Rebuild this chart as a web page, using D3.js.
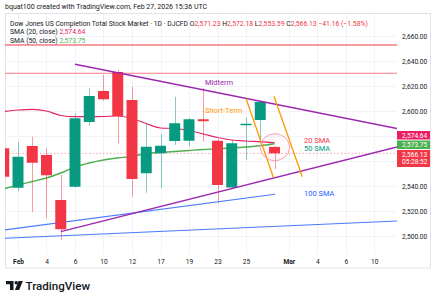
<!DOCTYPE html>
<html>
<head>
<meta charset="utf-8">
<script src="https://cdn.jsdelivr.net/npm/d3@7"></script>
<style>
  html, body { margin: 0; padding: 0; background: #ffffff; }
  svg { display: block; font-family: Roboto, "Liberation Sans", sans-serif; }
</style>
</head>
<body>
<svg id="chart" width="437" height="300"></svg>
<script>
// ---------------- DATA ----------------
const barIndex = [-1,0,1,2,3,4,5,6,7,8,9,10,11,12,13,14,15,16,17,18];
const dates = ["Jan 30","Feb 2","Feb 3","Feb 4","Feb 5","Feb 6","Feb 9","Feb 10","Feb 11","Feb 12","Feb 13","Feb 17","Feb 18","Feb 19","Feb 20","Feb 23","Feb 24","Feb 25","Feb 26","Feb 27"];
const openVals  = [2570.2,2538.6,2572.0,2564.8,2528.8,2539.4,2591.2,2616.0,2631.2,2608.8,2550.2,2566.2,2576.0,2576.2,2593.4,2576.2,2538.8,2589.0,2592.8,2571.23];
const highVals  = [2573.0,2575.0,2579.4,2570.2,2548.8,2598.2,2618.2,2628.8,2632.8,2619.4,2590.6,2581.6,2611.4,2594.5,2618.2,2577.6,2576.8,2595.0,2607.5,2572.18];
const lowVals   = [2545.0,2536.0,2519.4,2514.2,2496.8,2538.5,2588.2,2608.2,2574.2,2531.4,2534.6,2538.2,2572.8,2572.0,2575.4,2526.2,2538.0,2560.8,2574.2,2553.59];
const closeVals = [2547.4,2563.4,2558.6,2548.6,2505.4,2594.2,2612.0,2609.4,2596.0,2545.6,2571.4,2572.2,2590.2,2593.4,2591.8,2540.8,2574.2,2589.8,2607.29,2566.13];
const sma20 = [2599.6,2600.8,2601.36,2600.0,2596.4,2595.44,2595.44,2595.6,2596.0,2594.0,2590.0,2586.4,2586.0,2584.4,2581.6,2578.8,2576.8,2576.0,2575.44,2574.64];
const sma50 = [2537.8,2540.8,2543.6,2546.4,2550.4,2555.2,2558.4,2560.8,2562.4,2563.6,2566.0,2566.8,2567.6,2568.4,2569.2,2569.76,2570.4,2571.2,2572.24,2573.75];

// drawn levels / trend lines: [barIndex, price]
const levelPrices   = [2652.8, 2630.2];
const midtermLine   = [[4, 2637.4], [26.6, 2586.0]];
const supportLine   = [[3, 2503.5], [26.6, 2571.2]];
const shortTerm1    = [[16, 2610.0], [17.92, 2547.0]];
const shortTerm2    = [[17.96, 2611.8], [19.95, 2547.4]];
const sma100Line    = [[-0.95, 2504.8], [18.04, 2533.4]];
const lowerBlueLine = [[-0.95, 2498.2], [26.6, 2512.0]];
const ellipseArea   = {center: [18.03, 2571.0], halfBars: 1.03, halfPrice: 10.8};

// annotations: [barIndex, price, text]
const annotations = [
  [13.12, 2623.0, "Midterm"],
  [13.12, 2600.2, "Short-Term"],
  [20.07, 2576.2, "20 SMA"],
  [20.07, 2570.2, "50 SMA"],
  [20.07, 2534.2, "100 SMA"]
];

// axes
const priceTicks = [2500, 2520, 2540, 2600, 2620, 2640, 2660];
const priceGrid  = [2500, 2520, 2540, 2560, 2580, 2600, 2620, 2640, 2660];
const timeTickIdx    = [0, 2, 4, 6, 8, 10, 12, 14, 16, 19, 21, 23, 25];
const timeTickLabels = ["Feb","4","6","10","12","17","19","23","25","Mar","4","6","10"];

// legend values
const legendOHLC = {O: "2,571.23", H: "2,572.18", L: "2,553.59", C: "2,566.13", chg: "\u221241.16 (\u22121.58%)"};
const legendSMA = [["SMA (20, close)", "2,574.64"], ["SMA (50, close)", "2,573.75"]];
const lastLabels = [["2,574.64"], ["2,573.75"], ["2,566.13", "05:28:52"]];

// ---------------- STYLE ----------------
const C = {
  up: "#089981", down: "#f23645", sma20: "#e91e63", sma50: "#4caf50",
  purple: "#9c27b0", orange: "#ff9800", blue: "#2962ff", grid: "#f0f3fa",
  text: "#131722", axisText: "#131722"
};

const svg = d3.select("#chart");
const plot = {left: 5, right: 397, top: 14, bottom: 254};

const x = d3.scaleLinear().domain([-0.912, 26.596]).range([plot.left, plot.right]);
const y = d3.scaleLinear().domain([2500, 2660]).range([236, 36]);

svg.append("defs").append("clipPath").attr("id", "clip")
  .append("rect").attr("x", plot.left).attr("y", plot.top)
  .attr("width", plot.right - plot.left).attr("height", plot.bottom - plot.top);

// frame
svg.append("rect").attr("x", 5.5).attr("y", 13.5).attr("width", 425).attr("height", 254.5)
  .attr("fill", "none").attr("stroke", "#e0e3eb").attr("stroke-width", 1);

// grid
const g = svg.append("g").attr("clip-path", "url(#clip)");
g.selectAll("line.hg").data(priceGrid).join("line")
  .attr("x1", plot.left).attr("x2", plot.right)
  .attr("y1", d => Math.round(y(d)) + 0.5).attr("y2", d => Math.round(y(d)) + 0.5)
  .attr("stroke", C.grid);
g.selectAll("line.vg").data(timeTickIdx).join("line")
  .attr("x1", d => Math.round(x(d)) + 0.5).attr("x2", d => Math.round(x(d)) + 0.5)
  .attr("y1", plot.top).attr("y2", plot.bottom)
  .attr("stroke", C.grid);

// horizontal levels
g.selectAll("line.lvl").data(levelPrices).join("line")
  .attr("x1", plot.left).attr("x2", plot.right)
  .attr("y1", d => y(d)).attr("y2", d => y(d))
  .attr("stroke", (d, i) => i === 0 ? "#f23645" : "#f77c8a")
  .attr("stroke-width", 1.2);

// lower blue trend lines
const segs = [
  {pts: lowerBlueLine, color: C.blue, w: 1.1},
  {pts: sma100Line, color: C.blue, w: 1.1}
];
segs.forEach(s => g.append("line")
  .attr("x1", x(s.pts[0][0])).attr("y1", y(s.pts[0][1]))
  .attr("x2", x(s.pts[1][0])).attr("y2", y(s.pts[1][1]))
  .attr("stroke", s.color).attr("stroke-width", s.w).attr("opacity", 0.85));

// close price dotted line
g.append("line").attr("x1", plot.left).attr("x2", plot.right)
  .attr("y1", y(closeVals[closeVals.length - 1])).attr("y2", y(closeVals[closeVals.length - 1]))
  .attr("stroke", "#f23645").attr("stroke-opacity", 0.45).attr("stroke-dasharray", "1.5,2");

// SMA lines
const lineGen = d3.line().x(d => x(d[0])).y(d => y(d[1])).curve(d3.curveMonotoneX);
g.append("path").datum(barIndex.map((b, i) => [b, sma20[i]]))
  .attr("d", lineGen).attr("fill", "none").attr("stroke", C.sma20).attr("stroke-width", 1.2);
g.append("path").datum(barIndex.map((b, i) => [b, sma50[i]]))
  .attr("d", lineGen).attr("fill", "none").attr("stroke", C.sma50).attr("stroke-width", 1.4);

// candles
const bw = (x(1) - x(0)) * 0.77;
const candles = barIndex.map((b, i) => ({b, o: openVals[i], h: highVals[i], l: lowVals[i], c: closeVals[i]}));
const cg = g.append("g");
cg.selectAll("line.wick").data(candles).join("line")
  .attr("x1", d => Math.round(x(d.b)) + 0.5).attr("x2", d => Math.round(x(d.b)) + 0.5)
  .attr("y1", d => y(d.h)).attr("y2", d => y(d.l))
  .attr("stroke", d => d.c >= d.o ? C.up : C.down).attr("stroke-opacity", 0.5).attr("stroke-width", 1);
cg.selectAll("rect.body").data(candles).join("rect")
  .attr("x", d => x(d.b) - bw / 2).attr("width", bw)
  .attr("y", d => y(Math.max(d.o, d.c)))
  .attr("height", d => Math.max(1.5, Math.abs(y(d.o) - y(d.c))))
  .attr("fill", d => d.c >= d.o ? C.up : C.down);

// purple / orange trend lines
[{pts: midtermLine, color: C.purple, w: 1.4},
 {pts: supportLine, color: C.purple, w: 1.4},
 {pts: shortTerm1, color: C.orange, w: 1.3},
 {pts: shortTerm2, color: C.orange, w: 1.3}].forEach(s => g.append("line")
  .attr("x1", x(s.pts[0][0])).attr("y1", y(s.pts[0][1]))
  .attr("x2", x(s.pts[1][0])).attr("y2", y(s.pts[1][1]))
  .attr("stroke", s.color).attr("stroke-width", s.w));

// ellipse
g.append("ellipse")
  .attr("cx", x(ellipseArea.center[0])).attr("cy", y(ellipseArea.center[1]))
  .attr("rx", x(ellipseArea.halfBars) - x(0))
  .attr("ry", y(2500) - y(2500 + ellipseArea.halfPrice))
  .attr("fill", "#f23645").attr("fill-opacity", 0.03)
  .attr("stroke", "#f7a1a9").attr("stroke-width", 1);

// annotations
const annColors = [C.purple, C.orange, "#f23645", C.up, C.blue];
g.selectAll("text.ann").data(annotations).join("text")
  .attr("x", d => x(d[0])).attr("y", d => y(d[1]))
  .attr("dy", "0.35em").attr("font-size", 7.5)
  .attr("fill", (d, i) => annColors[i]).text(d => d[2]);

// price axis
const yAxis = d3.axisRight(y).tickValues(priceTicks).tickFormat(d3.format(",.2f")).tickSize(0).tickPadding(0);
const ya = svg.append("g").attr("transform", `translate(402,0)`).call(yAxis);
ya.select(".domain").remove();
ya.selectAll("text").attr("font-size", 6.6).attr("fill", C.axisText).attr("font-family", "Roboto, sans-serif");

// time axis
const xAxis = d3.axisBottom(x).tickValues(timeTickIdx).tickFormat((d, i) => timeTickLabels[i]).tickSize(0).tickPadding(0);
const xa = svg.append("g").attr("transform", `translate(0,259)`).call(xAxis);
xa.select(".domain").remove();
xa.selectAll("text").attr("font-size", 6.6).attr("fill", C.axisText).attr("font-family", "Roboto, sans-serif")
  .attr("font-weight", (d, i) => (timeTickLabels[i] === "Feb" || timeTickLabels[i] === "Mar") ? 700 : 400);

// last value labels
const labelBoxes = [
  {top: 131, h: 8.5, color: C.sma20},
  {top: 140.5, h: 8.5, color: C.sma50},
  {top: 150, h: 17, color: C.down}
];
lastLabels.forEach((lines, i) => {
  const b = labelBoxes[i];
  svg.append("rect").attr("x", 397).attr("y", b.top).attr("width", 33).attr("height", b.h).attr("fill", b.color);
  lines.forEach((t, j) => svg.append("text").attr("x", 402).attr("y", b.top + 4.3 + j * 7.8)
    .attr("dy", "0.35em").attr("font-size", 6.6).attr("fill", "#fff").text(t));
});

// header
svg.append("text").attr("x", 5).attr("y", 7).attr("dy", "0.35em").attr("font-size", 7)
  .attr("fill", "#131722").text("bquat100 created with TradingView.com, Feb 27, 2026 15:36 UTC");

const leg = svg.append("text").attr("x", 10).attr("y", 23.3).attr("dy", "0.35em").attr("font-size", 6.8).attr("fill", C.text);
leg.append("tspan").text("Dow Jones US Completion Total Stock Market \u00b7 1D \u00b7 DJCFD  ");
["O", "H", "L", "C"].forEach(k => {
  leg.append("tspan").text(k);
  leg.append("tspan").attr("fill", C.down).text(legendOHLC[k] + "  ");
});
leg.append("tspan").attr("fill", C.down).text(legendOHLC.chg);

legendSMA.forEach((s, i) => {
  const t = svg.append("text").attr("x", 10).attr("y", 31.8 + i * 8.5).attr("dy", "0.35em").attr("font-size", 6.8).attr("fill", C.text);
  t.append("tspan").text(s[0] + "  ");
  t.append("tspan").attr("fill", i === 0 ? C.sma20 : C.sma50).text(s[1]);
});

// TradingView logo
const logo = svg.append("g").attr("fill", "#131722");
logo.append("path").attr("d", "M6,281 H13.5 V290 H10 V284.2 H6 Z");
logo.append("circle").attr("cx", 16.2).attr("cy", 282.7).attr("r", 1.7);
logo.append("path").attr("d", "M18.5,281 H22.8 L19.2,290 H14.9 Z");
svg.append("text").attr("x", 25.5).attr("y", 289.5).attr("font-size", 11.6).attr("font-weight", 500)
  .attr("fill", "#131722").text("TradingView");
</script>
</body>
</html>
